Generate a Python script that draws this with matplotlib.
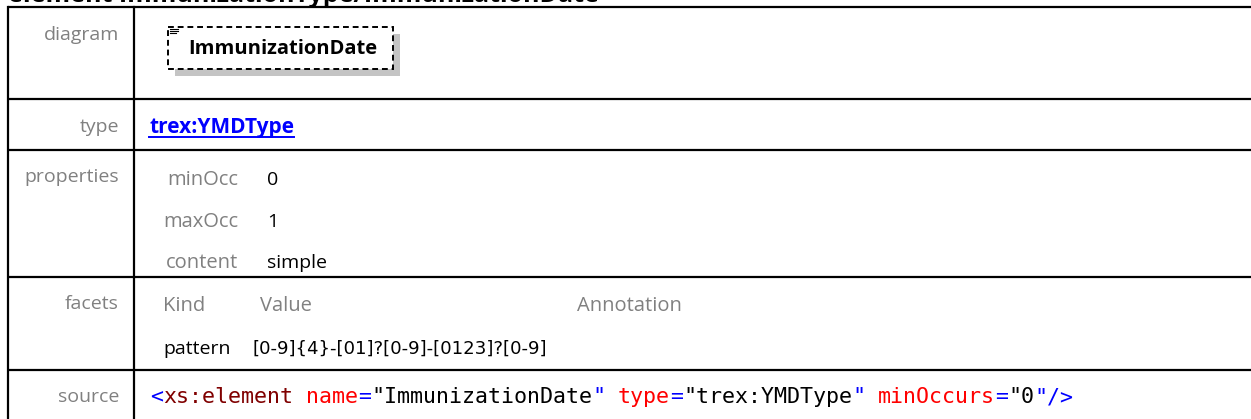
import matplotlib
matplotlib.use("Agg")
import matplotlib.pyplot as plt
from matplotlib.font_manager import FontProperties
from matplotlib.patches import Rectangle

W, H = 1251, 419

# table content
title = "element ImmunizationType/ImmunizationDate"
row_labels = ["diagram", "type", "properties", "facets", "source"]
element_name = "ImmunizationDate"
type_link = "trex:YMDType"
prop_names = ["minOcc", "maxOcc", "content"]
prop_values = ["0", "1", "simple"]
facet_headers = ["Kind", "Value", "Annotation"]
facet_kind = "pattern"
facet_value = "[0-9]{4}-[01]?[0-9]-[0123]?[0-9]"
# source line as (text, colour) pieces
source_parts = [
    ("<", "#0000ff"), ("xs:element", "#800000"), (" ", "black"),
    ("name", "#ff0000"), ("=", "#0000ff"), ('"ImmunizationDate', "black"), ('"', "#0000ff"), (" ", "black"),
    ("type", "#ff0000"), ("=", "#0000ff"), ('"trex:YMDType', "black"), ('"', "#0000ff"), (" ", "black"),
    ("minOccurs", "#ff0000"), ("=", "#0000ff"), ('"0', "black"), ('"/>', "#0000ff"),
]

GRAY = "#808080"
SANS = ["Open Sans", "DejaVu Sans"]
MONO = "DejaVu Sans Mono"
FS = 14

fig = plt.figure(figsize=(W / 100, H / 100), dpi=100)
ax = fig.add_axes([0, 0, 1, 1])
ax.set_xlim(0, W)
ax.set_ylim(H, 0)
ax.axis("off")

lw = 1.6
# grid lines of the table
row_lines = [7, 99, 150, 277, 370]
for y in row_lines:
    ax.plot([8, W + 5], [y, y], color="black", lw=lw, solid_capstyle="butt")
ax.plot([8, 8], [7, H + 5], color="black", lw=lw)
ax.plot([134, 134], [7, H + 5], color="black", lw=lw)

# title, mostly above the top edge as in the source page
ax.text(8, 1.8, title, fontsize=18, fontweight="bold", family=SANS,
        va="baseline", ha="left", color="black")

# row labels
label_y = [35, 127, 177, 304, 397]
for lab, y in zip(row_labels, label_y):
    ax.text(119, y, lab, fontsize=FS, family=SANS, color=GRAY, ha="right", va="center")

# diagram: dashed element box with shadow
ax.add_patch(Rectangle((175, 34), 225, 42, facecolor="#c4c4c4", edgecolor="none"))
ax.add_patch(Rectangle((168, 27), 225, 42, facecolor="white", edgecolor="black",
                       lw=1.4, linestyle=(0, (3, 2))))
for k in range(3):
    ax.plot([170, 178 - 2 * (k == 2)], [29.5 + 2 * k, 29.5 + 2 * k], color="black", lw=0.8)
ax.text(283, 49, element_name, fontsize=14.5, fontweight="bold", family=SANS,
        ha="center", va="center", color="black")

# type link
t = ax.text(149, 127, type_link, fontsize=15, fontweight="bold", family=SANS,
            color="#0000ff", ha="left", va="center")
fig.canvas.draw()
r = fig.canvas.get_renderer()
bb = t.get_window_extent(r)
ax.plot([149, 149 + bb.width], [137, 137], color="#0000ff", lw=1.4)

# properties
prop_y = [180, 222, 263]
for name, val, y in zip(prop_names, prop_values, prop_y):
    ax.text(238, y, name, fontsize=FS + 0.5, family=SANS, color=GRAY, ha="right", va="center")
    ax.text(267, y, val, fontsize=FS, family=SANS, color="black", ha="left", va="center")

# facets
for hdr, x in zip(facet_headers, [163, 260, 577]):
    ax.text(x, 306, hdr, fontsize=FS + 0.5, family=SANS, color=GRAY, ha="left", va="center")
ax.text(163, 349, facet_kind, fontsize=FS, family=SANS, color="black", ha="left", va="center")
ax.text(253, 349, facet_value, fontsize=13.1, family="DejaVu Sans", color="black",
        ha="left", va="center")

# source code line in monospace
mono_size = 15.6
cw, _, _ = r.get_text_width_height_descent("x" * 10, FontProperties(family=MONO, size=mono_size),
                                           ismath=False)
cw = cw / 10
x = 150
for seg, col in source_parts:
    ax.text(x, 397, seg, fontsize=mono_size, family=MONO, color=col, ha="left", va="center")
    x += cw * len(seg)

fig.savefig("out.png", dpi=100)
